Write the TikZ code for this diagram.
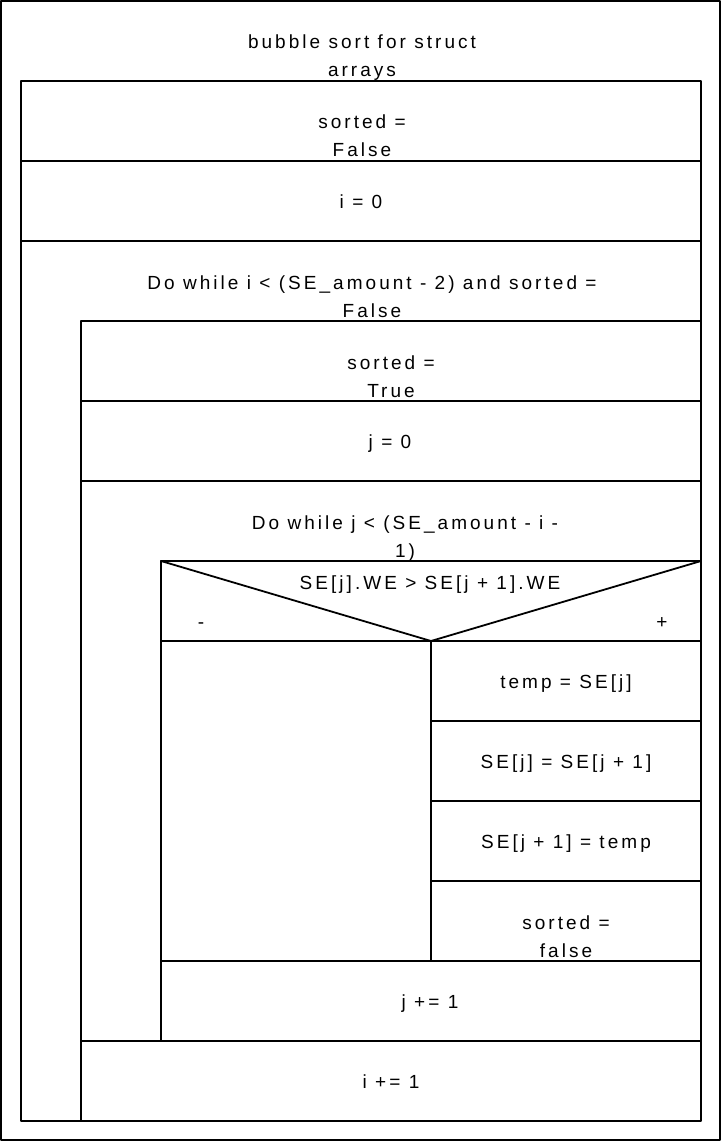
\documentclass[tikz,border=0pt]{standalone}
\usepackage{fontspec}
\setmainfont{Liberation Sans}[LetterSpace=16]
\usepackage{amsmath, tikz, tkz-euclide}

\tikzset{
  txt/.style={anchor=base, align=center, font=\fontsize{19}{28}\selectfont},
  nsline/.style={line width=1.8pt}
}

\begin{document}
\begin{tikzpicture}[x=1pt,y=-1pt]
    \useasboundingbox (0,0) rectangle (722,1142);
    \tkzDefPoints{1/1/P1, 720/1/P2, 720/1140/P3, 1/1140/P4}
    \tkzDefPoints{21/81/A, 701/81/B, 701/1121/C, 21/1121/D}
    \tkzDefPoints{21/161/A1, 701/161/B1, 21/241/A2, 701/241/B2}
    \tkzDefPoints{81/321/E, 701/321/F, 81/1121/G}
    \tkzDefPoints{81/401/E1, 701/401/F1, 81/481/E2, 701/481/F2, 81/1041/E3, 701/1041/F3}
    \tkzDefPoints{161/561/H, 701/561/I, 161/1041/J}
    \tkzDefPoints{161/641/H1, 701/641/I1, 161/961/H2, 701/961/I2}
    \tkzDefPoints{431/641/K, 431/961/L}
    \tkzDefPoints{431/721/K1, 701/721/M1, 431/801/K2, 701/801/M2, 431/881/K3, 701/881/M3}
    \tkzDrawPolygon[line width=2pt](P1,P2,P3,P4)
    \tkzDrawPolygon[nsline](A,B,C,D)
    \tkzDrawSegments[nsline](A1,B1 A2,B2 E,F E,G E1,F1 E2,F2 E3,F3)
    \tkzDrawSegments[nsline](H,I H,J H1,I1 H2,I2 H,K K,I K,L)
    \tkzDrawSegments[nsline](K1,M1 K2,M2 K3,M3)
    % texts (two-line texts sit on the baseline of their last line)
    \node[txt] (title) at (362,77) {bubble sort for struct\\arrays};
    \node[txt] (sortedF) at (362,157) {sorted =\\False};
    \node[txt] (iinit) at (361,208) {i = 0};
    \node[txt] (outerloop) at (372,317) {Do while i < (SE\_amount - 2) and sorted =\\False};
    \node[txt] (sortedT) at (391,397) {sorted =\\True};
    \node[txt] (jinit) at (390,448) {j = 0};
    \node[txt] (innerloop) at (405,557) {Do while j < (SE\_amount - i -\\1)};
    \node[txt] (cond) at (430,589) {SE[j].WE > SE[j + 1].WE};
    \node[txt] (no) at (201,628) {-};
    \node[txt] (yes) at (662,628) {+};
    \node[txt] (swapa) at (566,688) {temp = SE[j]};
    \node[txt] (swapb) at (566,768) {SE[j] = SE[j + 1]};
    \node[txt] (swapc) at (566,848) {SE[j + 1] = temp};
    \node[txt] (sortedf) at (566,957) {sorted =\\false};
    \node[txt] (jinc) at (430,1008) {j += 1};
    \node[txt] (iinc) at (391,1088) {i += 1};
\end{tikzpicture}
\end{document}
